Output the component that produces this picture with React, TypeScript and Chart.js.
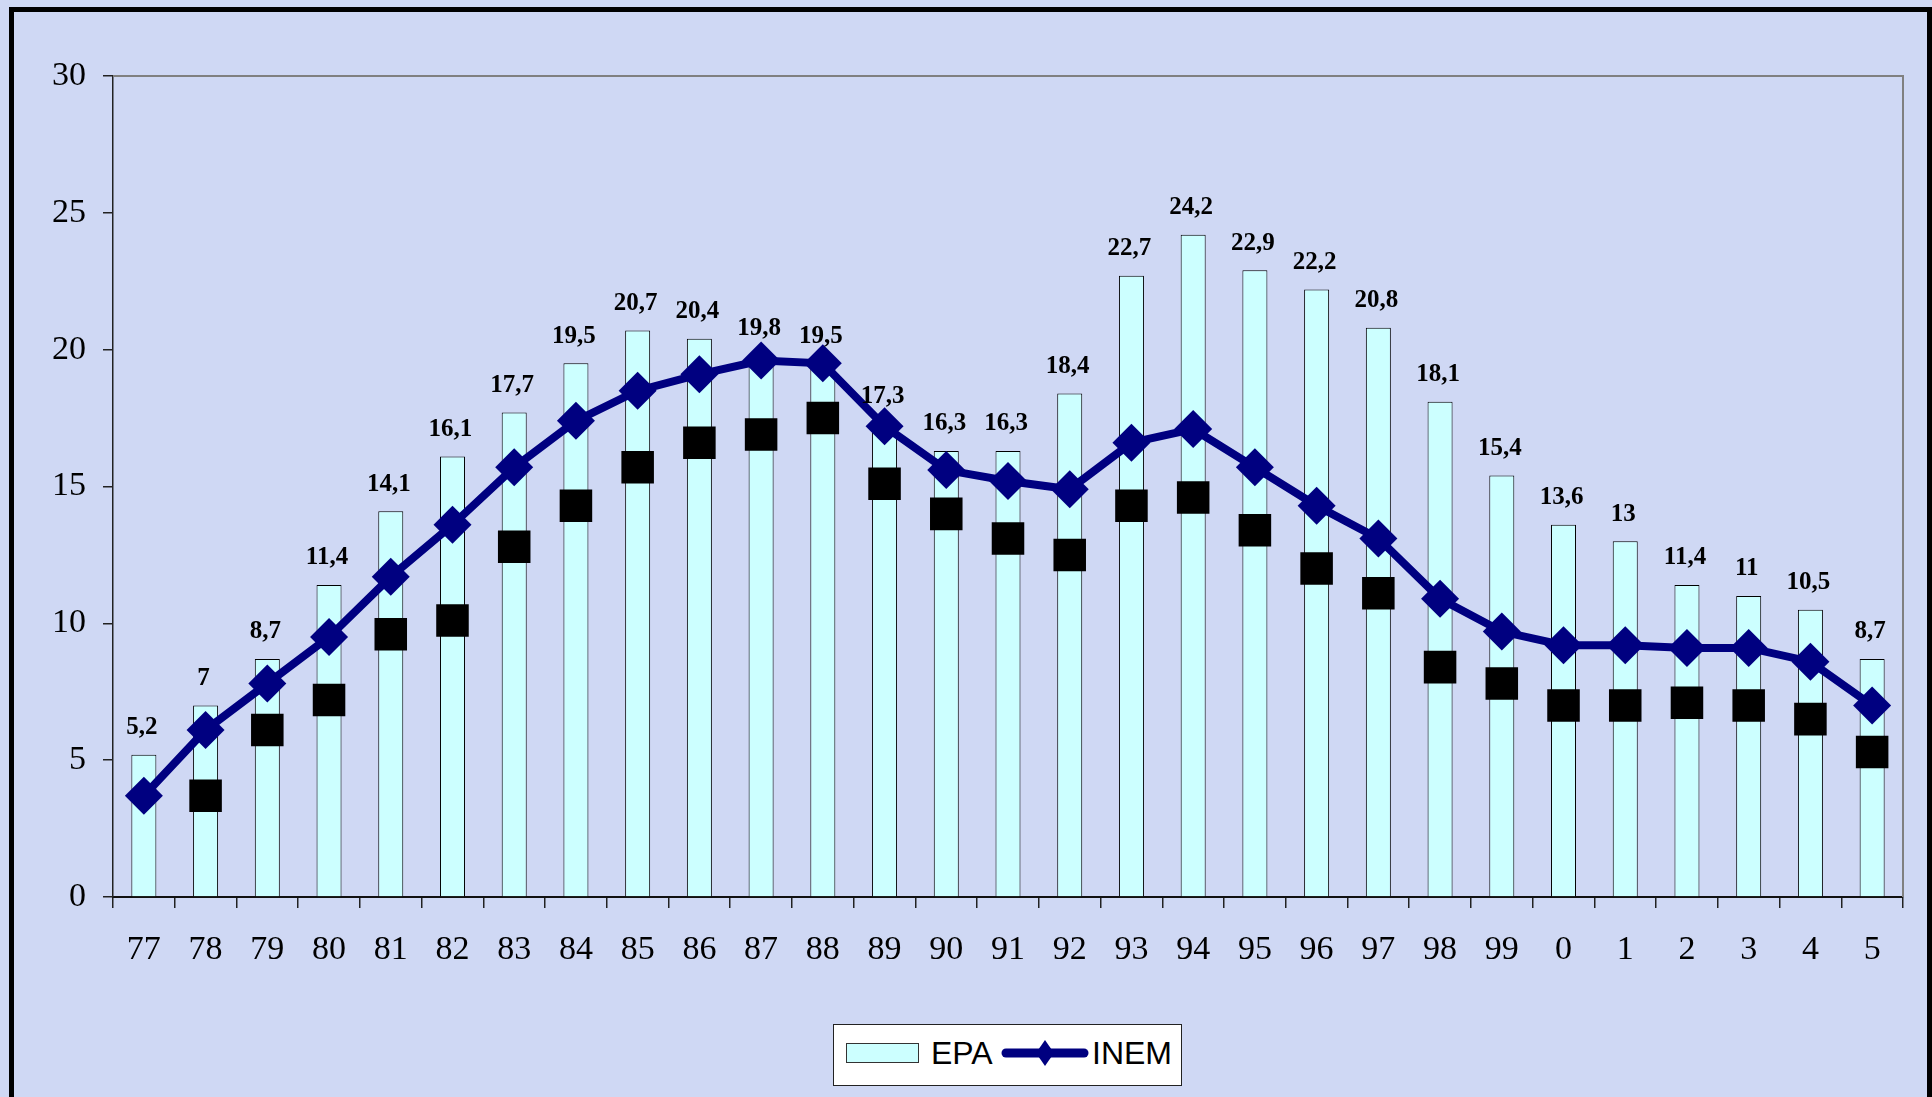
import React, { useEffect, useRef } from 'react';
import { Chart, registerables } from 'chart.js';

Chart.register(...registerables);

const years = ['77', '78', '79', '80', '81', '82', '83', '84', '85', '86', '87', '88', '89', '90', '91', '92', '93', '94', '95', '96', '97', '98', '99', '0', '1', '2', '3', '4', '5'];
const epaValues = [5.2, 7, 8.7, 11.4, 14.1, 16.1, 17.7, 19.5, 20.7, 20.4, 19.8, 19.5, 17.3, 16.3, 16.3, 18.4, 22.7, 24.2, 22.9, 22.2, 20.8, 18.1, 15.4, 13.6, 13, 11.4, 11, 10.5, 8.7];
const inemValues = [3.7, 6.1, 7.8, 9.5, 11.7, 13.6, 15.7, 17.4, 18.5, 19.1, 19.6, 19.5, 17.2, 15.6, 15.2, 14.9, 16.6, 17.1, 15.7, 14.3, 13.1, 10.9, 9.7, 9.2, 9.2, 9.1, 9.1, 8.6, 7.0];
const squareValues = [null, 3.7, 6.1, 7.2, 9.6, 10.1, 12.8, 14.3, 15.7, 16.6, 16.9, 17.5, 15.1, 14.0, 13.1, 12.5, 14.3, 14.6, 13.4, 12.0, 11.1, 8.4, 7.8, 7.0, 7.0, 7.1, 7.0, 6.5, 5.3];
const yMin = 0;
const yMax = 30;
const yStep = 5;

const SERIF = "'Liberation Serif', 'Times New Roman', serif";
const SANS = "'Liberation Sans', Arial, sans-serif";

const framePlugin = {
  id: 'frame',
  beforeDatasetsDraw(chart: any) {
    const { ctx, chartArea } = chart;
    ctx.save();
    ctx.strokeStyle = '#808080';
    ctx.lineWidth = 2;
    ctx.beginPath();
    ctx.moveTo(chartArea.left, chartArea.top);
    ctx.lineTo(chartArea.right, chartArea.top);
    ctx.lineTo(chartArea.right, chartArea.bottom);
    ctx.stroke();
    ctx.restore();
  },
};

const labelPlugin = {
  id: 'barLabels',
  afterDatasetsDraw(chart: any) {
    const { ctx } = chart;
    const meta = chart.getDatasetMeta(0);
    ctx.save();
    ctx.fillStyle = '#000000';
    ctx.font = `bold 25px ${SERIF}`;
    ctx.textAlign = 'center';
    ctx.textBaseline = 'middle';
    meta.data.forEach((el: any, i: number) => {
      const txt = String(epaValues[i]).replace('.', ',');
      ctx.fillText(txt, el.x - 2, el.y - 27);
    });
    ctx.restore();
  },
};

export default function App() {
  const canvasRef = useRef<HTMLCanvasElement | null>(null);

  useEffect(() => {
    if (!canvasRef.current) return;
    const chart = new Chart(canvasRef.current, {
      type: 'bar',
      data: {
        labels: years,
        datasets: [
          {
            type: 'bar',
            label: 'EPA',
            data: epaValues,
            backgroundColor: '#ccffff',
            borderColor: '#000000',
            borderWidth: 1,
            barPercentage: 0.405,
            categoryPercentage: 1,
            order: 2,
          } as any,
          {
            type: 'line',
            label: '',
            data: squareValues,
            showLine: false,
            pointStyle: 'rect',
            pointRadius: 23,
            pointBackgroundColor: '#000000',
            pointBorderWidth: 0,
            borderColor: '#000000',
            order: 1,
          } as any,
          {
            type: 'line',
            label: 'INEM',
            data: inemValues,
            borderColor: '#000080',
            borderWidth: 8,
            pointStyle: 'rectRot',
            pointRadius: 19,
            pointBackgroundColor: '#000080',
            pointBorderColor: '#000080',
            pointBorderWidth: 0,
            tension: 0,
            order: 0,
          } as any,
        ],
      },
      options: {
        responsive: false,
        animation: false,
        devicePixelRatio: 1,
        layout: { padding: { left: 0, top: 76, right: 29, bottom: 100 } },
        plugins: {
          legend: { display: false },
          tooltip: { enabled: false },
        },
        scales: {
          x: {
            type: 'category',
            offset: true,
            grid: {
              offset: true,
              drawOnChartArea: false,
              drawTicks: true,
              tickLength: 11,
              color: '#222222',
              lineWidth: 1.5,
            },
            border: { display: true, color: '#111111', width: 2 },
            ticks: {
              font: { family: SERIF, size: 34 },
              color: '#000000',
              padding: 22,
              maxRotation: 0,
              autoSkip: false,
            },
            afterFit(scale: any) {
              scale.height = 100;
            },
          },
          y: {
            min: yMin,
            max: yMax,
            grid: {
              drawOnChartArea: false,
              drawTicks: true,
              tickLength: 10,
              color: '#222222',
              lineWidth: 1.5,
            },
            border: { display: true, color: '#222222', width: 1.5 },
            ticks: {
              stepSize: yStep,
              font: { family: SERIF, size: 34 },
              color: '#000000',
              padding: 17,
            },
            afterFit(scale: any) {
              scale.width = 113;
            },
          },
        },
      },
      plugins: [framePlugin, labelPlugin],
    });
    return () => chart.destroy();
  }, []);

  return (
    <div
      style={{
        position: 'fixed',
        left: 0,
        top: 0,
        width: 1932,
        height: 1097,
        overflow: 'hidden',
        background: '#cfd8f4',
      }}
    >
      <div
        style={{
          position: 'absolute',
          left: 9,
          top: 7,
          width: 1923,
          height: 1200,
          border: '5px solid #000000',
          boxSizing: 'border-box',
        }}
      />
      <canvas
        ref={canvasRef}
        width={1932}
        height={1097}
        style={{ position: 'absolute', left: 0, top: 0, width: 1932, height: 1097 }}
      />
      <div
        style={{
          position: 'absolute',
          left: 833,
          top: 1024,
          width: 349,
          height: 62,
          background: '#ffffff',
          border: '1.5px solid #222222',
          boxSizing: 'border-box',
          fontFamily: SANS,
        }}
      >
        <div
          style={{
            position: 'absolute',
            left: 12,
            top: 18,
            width: 73,
            height: 20,
            background: '#ccffff',
            border: '1px solid #333333',
            boxSizing: 'border-box',
          }}
        />
        <span
          style={{
            position: 'absolute',
            left: 97,
            top: 12,
            fontSize: 32,
            lineHeight: '32px',
            color: '#000000',
            whiteSpace: 'nowrap',
          }}
        >
          EPA
        </span>
        <svg
          style={{ position: 'absolute', left: 168, top: 13, overflow: 'visible' }}
          width={86}
          height={30}
        >
          <line x1={4} y1={15} x2={82} y2={15} stroke="#000080" strokeWidth={9} strokeLinecap="round" />
          <polygon points="43,2 52,15 43,28 34,15" fill="#000080" />
        </svg>
        <span
          style={{
            position: 'absolute',
            left: 258,
            top: 12,
            fontSize: 32,
            lineHeight: '32px',
            color: '#000000',
            whiteSpace: 'nowrap',
          }}
        >
          INEM
        </span>
      </div>
    </div>
  );
}
